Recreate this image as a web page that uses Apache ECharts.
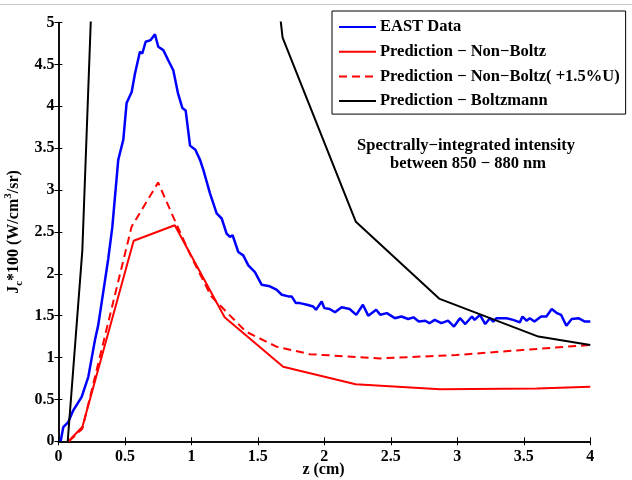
<!DOCTYPE html>
<html><head><meta charset="utf-8">
<script src="https://cdn.jsdelivr.net/npm/echarts@6/dist/echarts.min.js"></script>
<style>html,body{margin:0;padding:0;background:#fff}#c{width:632px;height:480px}</style>
</head><body><div id="c"></div>
<script>
// EAST data
const eastZ = [0.017,0.037,0.074,0.112,0.175,0.225,0.25,0.275,0.30,0.338,0.375,0.405,0.45,0.488,0.513,0.551,0.576,0.613,0.631,0.656,0.694,0.726,0.751,0.789,0.826,0.864,0.90,0.932,0.957,0.99,1.03,1.065,1.09,1.14,1.19,1.228,1.265,1.29,1.31,1.353,1.39,1.428,1.478,1.528,1.59,1.64,1.68,1.73,1.754,1.786,1.816,1.87,1.916,1.937,1.98,2.00,2.04,2.08,2.13,2.19,2.24,2.29,2.33,2.39,2.42,2.47,2.53,2.58,2.63,2.67,2.71,2.76,2.79,2.83,2.88,2.93,2.975,3.02,3.06,3.11,3.13,3.17,3.21,3.245,3.27,3.295,3.37,3.42,3.47,3.49,3.52,3.545,3.58,3.63,3.67,3.71,3.75,3.78,3.82,3.86,3.91,3.96,4.0];
const eastJ = [0,0.17,0.23,0.37,0.53,0.77,0.99,1.21,1.39,1.79,2.18,2.55,3.36,3.60,4.04,4.17,4.39,4.65,4.63,4.77,4.79,4.86,4.71,4.67,4.55,4.43,4.15,3.98,3.95,3.53,3.48,3.36,3.24,2.96,2.72,2.66,2.48,2.44,2.46,2.26,2.22,2.10,2.02,1.87,1.85,1.81,1.75,1.73,1.73,1.65,1.65,1.63,1.61,1.57,1.67,1.59,1.58,1.54,1.60,1.58,1.51,1.63,1.50,1.57,1.51,1.53,1.47,1.49,1.46,1.48,1.43,1.44,1.41,1.45,1.41,1.44,1.37,1.47,1.40,1.49,1.45,1.51,1.40,1.47,1.43,1.47,1.47,1.45,1.42,1.49,1.44,1.47,1.43,1.49,1.49,1.58,1.53,1.51,1.38,1.46,1.47,1.43,1.43];
// Prediction - Non-Boltz
const nbZ = [0.075,0.18,0.566,0.875,1.25,1.69,2.235,2.87,3.6,4.0];
const nbJ = [0,0.17,2.395,2.58,1.48,0.89,0.68,0.62,0.63,0.65];
// Prediction - Non-Boltz (+1.5%U)
const nbuZ = [0.08,0.18,0.55,0.75,0.88,1.0,1.15,1.26,1.41,1.64,1.89,2.42,2.99,3.49,4.0];
const nbuJ = [0,0.15,2.56,3.09,2.62,2.2,1.73,1.55,1.31,1.13,1.04,0.99,1.03,1.09,1.15];
// Prediction - Boltzmann (off-scale values above 5 are clipped)
const bZ = [0.07,0.18,0.3,1.56,1.686,2.237,2.867,3.61,4.0];
const bJ = [0,2.28,7.45,6.56,4.82,2.62,1.70,1.25,1.15];
const xTicks = [0,0.5,1,1.5,2,2.5,3,3.5,4];
const yTicks = [0,0.5,1,1.5,2,2.5,3,3.5,4,4.5,5];

const zip = (a,b)=>a.map((v,i)=>[v,b[i]]);
const FONT = 'Liberation Serif';
const chart = echarts.init(document.getElementById('c'), null, {renderer:'canvas'});
const axisCommon = {
  type:'value', axisLine:{show:true,lineStyle:{color:'#000',width:1.5}},
  axisTick:{show:true,inside:true,length:4,lineStyle:{color:'#000',width:1}},
  splitLine:{show:false}
};
chart.setOption({
  animation:false,
  backgroundColor:'#fff',
  textStyle:{fontFamily:FONT,fontWeight:'bold'},
  grid:{left:58.4,right:41.7,top:22.5,bottom:38.7,containLabel:false},
  xAxis:[
    Object.assign({},axisCommon,{min:xTicks[0],max:xTicks[xTicks.length-1],interval:0.5,position:'bottom',
      axisLabel:{color:'#000',fontSize:16,fontFamily:FONT,fontWeight:'bold',margin:8}}),
    Object.assign({},axisCommon,{min:xTicks[0],max:xTicks[xTicks.length-1],interval:0.5,position:'top',axisLabel:{show:false}})
  ],
  yAxis:[
    Object.assign({},axisCommon,{min:yTicks[0],max:yTicks[yTicks.length-1],interval:0.5,position:'left',
      axisLabel:{color:'#000',fontSize:16,fontFamily:FONT,fontWeight:'bold',margin:4}}),
    Object.assign({},axisCommon,{min:yTicks[0],max:yTicks[yTicks.length-1],interval:0.5,position:'right',axisLabel:{show:false}})
  ],
  legend:{
    orient:'vertical',left:332,top:11,
    padding:[7.5,6,4.5,6],itemGap:7.7,itemWidth:37,itemHeight:14,
    backgroundColor:'#fff',borderColor:'#000',borderWidth:1,
    itemStyle:{opacity:0,borderWidth:0},
    textStyle:{color:'#000',fontSize:16.5,fontFamily:FONT,fontWeight:'bold',padding:[0,0,0,-1]},
    data:['EAST Data','Prediction \u2212 Non\u2212Boltz','Prediction \u2212 Non\u2212Boltz( +1.5%U)','Prediction \u2212 Boltzmann']
  },
  series:[
    {name:'EAST Data',type:'line',symbol:'none',data:zip(eastZ,eastJ),lineStyle:{color:'#0000ff',width:2.5},itemStyle:{color:'#0000ff'},z:3},
    {name:'Prediction \u2212 Non\u2212Boltz',type:'line',symbol:'none',data:zip(nbZ,nbJ),lineStyle:{color:'#ff0000',width:2},itemStyle:{color:'#ff0000'}},
    {name:'Prediction \u2212 Non\u2212Boltz( +1.5%U)',type:'line',symbol:'none',data:zip(nbuZ,nbuJ),lineStyle:{color:'#ff0000',width:2,type:[8,5]},itemStyle:{color:'#ff0000'}},
    {name:'Prediction \u2212 Boltzmann',type:'line',symbol:'none',data:zip(bZ,bJ),lineStyle:{color:'#000',width:2},itemStyle:{color:'#000'},clip:true}
  ],
  graphic:[
    {type:'line',shape:{x1:0,y1:4.5,x2:632,y2:4.5},style:{stroke:'#c8c8c8',lineWidth:1},z:100},
    {type:'text',x:466,y:146,style:{text:'Spectrally\u2212integrated intensity',fontFamily:FONT,fontWeight:'bold',fontSize:16.5,fill:'#000',align:'center',verticalAlign:'middle'}},
    {type:'text',x:468,y:164,style:{text:'between 850 \u2212 880 nm',fontFamily:FONT,fontWeight:'bold',fontSize:16.5,fill:'#000',align:'center',verticalAlign:'middle'}},
    {type:'text',x:323.5,y:470,style:{text:'z (cm)',fontFamily:FONT,fontWeight:'bold',fontSize:16,fill:'#000',align:'center',verticalAlign:'middle'}},
    {type:'text',x:14,y:232,rotation:Math.PI/2,style:{
      text:'{m|J}{s|c}{m|*100 (W/cm}{p|3}{m|/sr)}',align:'center',verticalAlign:'middle',
      rich:{
        m:{fontFamily:FONT,fontWeight:'bold',fontSize:16,fill:'#000',lineHeight:22,verticalAlign:'middle'},
        s:{fontFamily:FONT,fontWeight:'bold',fontSize:11,fill:'#000',lineHeight:22,verticalAlign:'bottom',padding:[0,0,0,0]},
        p:{fontFamily:FONT,fontWeight:'bold',fontSize:11,fill:'#000',lineHeight:22,verticalAlign:'top'}
      }}}
  ]
});
</script></body></html>
